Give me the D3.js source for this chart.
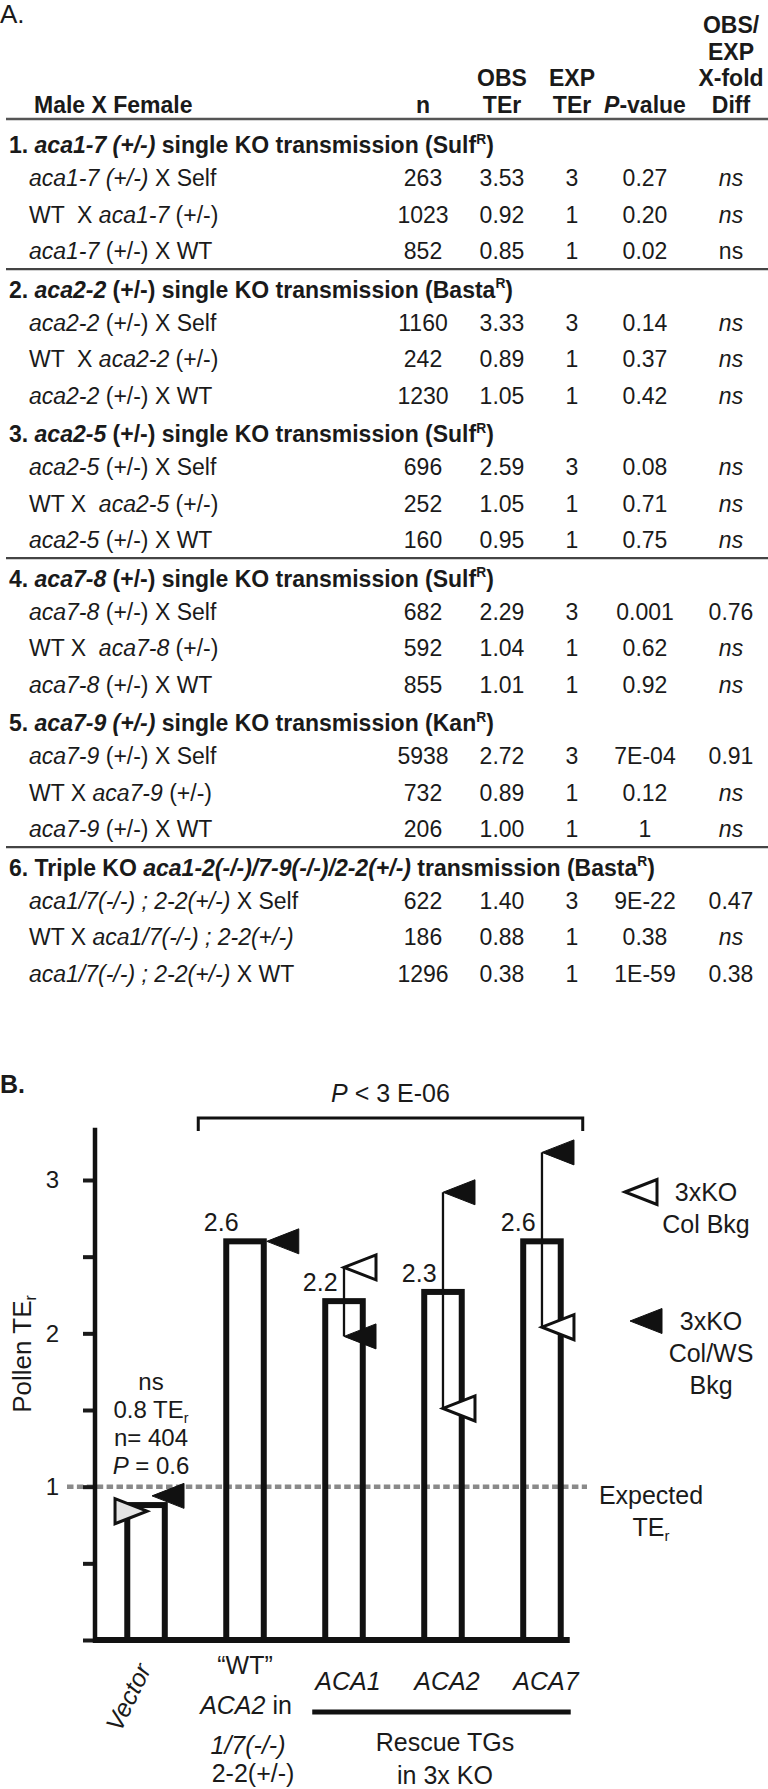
<!DOCTYPE html>
<html><head><meta charset="utf-8">
<script src="https://cdn.jsdelivr.net/npm/d3@7"></script>
<style>
html,body{margin:0;padding:0;background:#fff;}
svg{display:block;font-family:"Liberation Sans",Arial,Helvetica,sans-serif;}
text{white-space:pre;}
</style></head><body>
<svg id="fig" width="768" height="1789"></svg>
<script>
// ================= DATA : panel A (table) =================
const panelALabel = "A.";
const columnHeaders = [["n"], ["OBS", "TEr"], ["EXP", "TEr"], ["<i>P</i>-value"], ["OBS/", "EXP", "X-fold", "Diff"]];
const rowHeader = "Male X Female";
const sectionTitles = [
  "1. <i>aca1-7 (+/-)</i> single KO transmission (Sulf<sup>R</sup>)",
  "2. <i>aca2-2</i> (+/-) single KO transmission (Basta<sup>R</sup>)",
  "3. <i>aca2-5</i> (+/-) single KO transmission (Sulf<sup>R</sup>)",
  "4. <i>aca7-8</i> (+/-) single KO transmission (Sulf<sup>R</sup>)",
  "5. <i>aca7-9 (+/-)</i> single KO transmission (Kan<sup>R</sup>)",
  "6. Triple KO <i>aca1-2(-/-)/7-9(-/-)/2-2(+/-)</i> transmission (Basta<sup>R</sup>)"
];
const crossLabels = [
  "<i>aca1-7 (+/-)</i> X Self", "WT  X <i>aca1-7</i> (+/-)", "<i>aca1-7</i> (+/-) X WT",
  "<i>aca2-2</i> (+/-) X Self", "WT  X <i>aca2-2</i> (+/-)", "<i>aca2-2</i> (+/-) X WT",
  "<i>aca2-5</i> (+/-) X Self", "WT X  <i>aca2-5</i> (+/-)", "<i>aca2-5</i> (+/-) X WT",
  "<i>aca7-8</i> (+/-) X Self", "WT X  <i>aca7-8</i> (+/-)", "<i>aca7-8</i> (+/-) X WT",
  "<i>aca7-9</i> (+/-) X Self", "WT X <i>aca7-9</i> (+/-)", "<i>aca7-9</i> (+/-) X WT",
  "<i>aca1/7(-/-) ; 2-2(+/-)</i> X Self", "WT X <i>aca1/7(-/-) ; 2-2(+/-)</i>", "<i>aca1/7(-/-) ; 2-2(+/-)</i> X WT"
];
const nValues = [263, 1023, 852, 1160, 242, 1230, 696, 252, 160, 682, 592, 855, 5938, 732, 206, 622, 186, 1296];
const obsTEr = [3.53, 0.92, 0.85, 3.33, 0.89, 1.05, 2.59, 1.05, 0.95, 2.29, 1.04, 1.01, 2.72, 0.89, 1.00, 1.40, 0.88, 0.38];
const expTEr = [3, 1, 1, 3, 1, 1, 3, 1, 1, 3, 1, 1, 3, 1, 1, 3, 1, 1];
const pValues = ["0.27", "0.20", "0.02", "0.14", "0.37", "0.42", "0.08", "0.71", "0.75", "0.001", "0.62", "0.92", "7E-04", "0.12", "1", "9E-22", "0.38", "1E-59"];
const foldDiff = ["<i>ns</i>", "<i>ns</i>", "ns", "<i>ns</i>", "<i>ns</i>", "<i>ns</i>", "<i>ns</i>", "<i>ns</i>", "<i>ns</i>",
  "0.76", "<i>ns</i>", "<i>ns</i>", "0.91", "<i>ns</i>", "<i>ns</i>", "0.47", "<i>ns</i>", "0.38"];
const sectionsWithRule = [0, 2, 4];

// ================= DATA : panel B (bar chart) =================
const panelBLabel = "B.";
const groups = ["Vector", "WT", "ACA1", "ACA2", "ACA7"];
const meanTEr = [0.88, 2.6, 2.21, 2.27, 2.6];
const meanLabels = ["", "2.6", "2.2", "2.3", "2.6"];
const lineGroup = ["Vector", "Vector", "WT", "ACA1", "ACA1", "ACA2", "ACA2", "ACA7", "ACA7"];
const lineBackground = ["Col", "Col/WS", "Col/WS", "Col", "Col/WS", "Col/WS", "Col", "Col/WS", "Col"];
const lineTEr = [0.84, 0.94, 2.6, 2.43, 1.98, 2.92, 1.51, 3.18, 2.04];
const yTicks = [0, 0.5, 1, 1.5, 2, 2.5, 3];
const yTickLabels = ["", "", "1", "", "2", "", "3"];
const expectedTEr = 1;
const yTitle = "Pollen TE<sub>r</sub>";
const vectorNotes = ["ns", "0.8 TE<sub>r</sub>", "n= 404", "<i>P</i> = 0.6"];
const groupAxisLabels = [["<i>Vector</i>"], ["\u201CWT\u201D", "<i>ACA2</i> in", "<i>1/7(-/-)</i>", "2-2(+/-)"], ["<i>ACA1</i>"], ["<i>ACA2</i>"], ["<i>ACA7</i>"]];
const rescueLabel = ["Rescue TGs", "in 3x KO"];
const bracketLabel = "<i>P</i> < 3 E-06";
const legendItems = [
  {bg: "Col", lines: ["3xKO", "Col Bkg"]},
  {bg: "Col/WS", lines: ["3xKO", "Col/WS", "Bkg"]}
];
const expectedLabel = ["Expected", "TE<sub>r</sub>"];

// ================= helpers =================
const svg = d3.select("#fig");
function rich(sel, str, fs) {
  const parts = str.split(/(<\/?(?:i|sup|sub)>)/);
  let it = false, sup = false, sub = false, cur = 0;
  parts.forEach(p => {
    if (!p) return;
    if (p === "<i>") { it = true; return; }
    if (p === "</i>") { it = false; return; }
    if (p === "<sup>") { sup = true; return; }
    if (p === "</sup>") { sup = false; return; }
    if (p === "<sub>") { sub = true; return; }
    if (p === "</sub>") { sub = false; return; }
    const target = sup ? -0.42 * fs : sub ? 0.2 * fs : 0;
    const t = sel.append("tspan").text(p);
    if (it) t.attr("font-style", "italic");
    if (sup || sub) t.attr("font-size", (0.6 * fs) + "px");
    if (target !== cur) { t.attr("dy", target - cur); cur = target; }
  });
  return sel;
}
function txt(parent, str, x, y, fs, opts = {}) {
  const t = parent.append("text").attr("x", x).attr("y", y)
    .attr("font-size", fs + "px").attr("fill", "#1a1a1a")
    .attr("text-anchor", opts.anchor || "start");
  if (opts.bold) t.attr("font-weight", "bold");
  if (opts.transform) t.attr("transform", opts.transform);
  return rich(t, str, fs);
}

// ================= panel A =================
const FS = 23;
const A = svg.append("g");
txt(A, panelALabel, 0, 23, 26);
const col = [423, 502, 572, 645, 731];
const headBase = 113, headStep = 26.7;
txt(A, rowHeader, 34, headBase, FS, {bold: true});
columnHeaders.forEach((lines, c) => {
  lines.forEach((l, k) => {
    txt(A, l, col[c], headBase - headStep * (lines.length - 1 - k), FS, {bold: true, anchor: "middle"});
  });
});
A.append("line").attr("x1", 6).attr("x2", 768).attr("y1", 119).attr("y2", 119)
  .attr("stroke", "#555").attr("stroke-width", 2.6);

const headingCenter = s => 145 + 144.5 * s;
const rowCenter = i => headingCenter(Math.floor(i / 3)) + 33 + 36.6 * (i % 3);
const bOff = 8.2;
const f2 = d3.format(".2f");
sectionTitles.forEach((t, s) => {
  txt(A, t, 9, headingCenter(s) + bOff, FS, {bold: true});
});
crossLabels.forEach((lab, i) => {
  const yb = rowCenter(i) + bOff;
  txt(A, lab, 29, yb, FS);
  txt(A, String(nValues[i]), col[0], yb, FS, {anchor: "middle"});
  txt(A, f2(obsTEr[i]), col[1], yb, FS, {anchor: "middle"});
  txt(A, String(expTEr[i]), col[2], yb, FS, {anchor: "middle"});
  txt(A, pValues[i], col[3], yb, FS, {anchor: "middle"});
  txt(A, foldDiff[i], col[4], yb, FS, {anchor: "middle"});
});
sectionsWithRule.forEach(s => {
  const yy = rowCenter(s * 3 + 2) + 18;
  A.append("line").attr("x1", 6).attr("x2", 768).attr("y1", yy).attr("y2", yy)
    .attr("stroke", "#444").attr("stroke-width", 2.2);
});

// ================= panel B =================
const B = svg.append("g");
const CF = 25;
txt(B, panelBLabel, 0, 1093, 25, {bold: true});

const y = d3.scaleLinear().domain([0, 3]).range([1640, 1180]);
const yAxisTop = 3.34;
const x = d3.scaleBand().domain(groups).range([95, 593]).paddingInner(0.621).paddingOuter(0.326);
const bw = x.bandwidth();
const cx = g => x(g) + bw / 2;

// expected line (drawn first, bars have transparent fill)
B.append("line").attr("x1", 67).attr("x2", 587)
  .attr("y1", y(expectedTEr)).attr("y2", y(expectedTEr))
  .attr("stroke", "#8a8a8a").attr("stroke-width", 4.5).attr("stroke-dasharray", "6.5,3.4");

// y axis
const yAxis = d3.axisLeft(y).tickValues(yTicks).tickSize(12).tickPadding(24)
  .tickFormat((d, i) => yTickLabels[i]);
const ga = B.append("g").attr("transform", "translate(95,0)").call(yAxis);
ga.select(".domain").remove();
ga.attr("font-family", null).attr("font-size", null);
ga.selectAll(".tick line").attr("stroke", "#1a1a1a").attr("stroke-width", 4);
ga.selectAll(".tick text").attr("font-size", "24px").attr("fill", "#1a1a1a");
B.append("line").attr("x1", 95).attr("x2", 95).attr("y1", y(0) + 3).attr("y2", y(yAxisTop))
  .attr("stroke", "#111").attr("stroke-width", 4.5);

// bars
B.selectAll("rect.bar").data(groups).join("rect").attr("class", "bar")
  .attr("x", d => x(d)).attr("width", bw)
  .attr("y", (d, i) => y(meanTEr[i])).attr("height", (d, i) => y(0) - y(meanTEr[i]))
  .attr("fill", "none").attr("stroke", "#111").attr("stroke-width", 6);

// baseline
B.append("line").attr("x1", 93).attr("x2", x("ACA7") + bw + 9)
  .attr("y1", y(0)).attr("y2", y(0)).attr("stroke", "#111").attr("stroke-width", 6);

// mean labels
meanLabels.forEach((l, i) => {
  if (!l) return;
  txt(B, l, x(groups[i]) - 5, y(meanTEr[i]) - 10, CF, {anchor: "middle"});
});

// poles for line values
const TW = 32, TH = 25;
const leftTri = (tx, ty) => `M${tx},${ty}L${tx + TW},${ty - TH / 2}L${tx + TW},${ty + TH / 2}Z`;
const rightTri = (tx, ty) => `M${tx},${ty}L${tx - TW},${ty - TH / 2}L${tx - TW},${ty + TH / 2}Z`;
groups.forEach(g => {
  if (g === "Vector") return;
  const vals = lineTEr.filter((v, i) => lineGroup[i] === g);
  if (vals.length < 2) return;
  B.append("line").attr("x1", cx(g)).attr("x2", cx(g))
    .attr("y1", y(d3.max(vals))).attr("y2", y(d3.min(vals)))
    .attr("stroke", "#111").attr("stroke-width", 2.3);
});
// markers
lineTEr.forEach((v, i) => {
  const g = lineGroup[i], filled = lineBackground[i] === "Col/WS";
  let d;
  if (g === "Vector") d = filled ? leftTri(cx(g) + 6, y(v)) : rightTri(cx(g) + 1, y(v));
  else if (g === "WT") d = leftTri(x(g) + bw + 3, y(v));
  else d = leftTri(cx(g), y(v));
  B.append("path").attr("d", d)
    .attr("fill", filled ? "#111" : (g === "Vector" ? "#e4e4e4" : "#fff"))
    .attr("stroke", "#111").attr("stroke-width", filled ? 1 : 3).attr("stroke-linejoin", "miter");
});

// vector notes
vectorNotes.forEach((n, k) => txt(B, n, cx("Vector") + 5, 1390 + 28 * k, 24, {anchor: "middle"}));

// bracket
const bx0 = x("WT") - 28, bx1 = x("ACA7") + bw + 22;
B.append("path").attr("d", `M${bx0},1131V1118H${bx1}V1131`)
  .attr("fill", "none").attr("stroke", "#111").attr("stroke-width", 3);
txt(B, bracketLabel, (bx0 + bx1) / 2, 1102, 25, {anchor: "middle"});

// y title
txt(B, yTitle, 0, 0, 26, {anchor: "middle", transform: "translate(31,1354) rotate(-90)"});

// legend
const legY = [1192, 1321], legTri = [625, 630], legTx = [706, 711];
legendItems.forEach((it, k) => {
  const filled = it.bg === "Col/WS";
  B.append("path").attr("d", leftTri(legTri[k], legY[k]))
    .attr("fill", filled ? "#111" : "#fff").attr("stroke", "#111").attr("stroke-width", filled ? 1 : 3);
  it.lines.forEach((l, j) => txt(B, l, legTx[k], legY[k] + 9 + 32 * j, 25, {anchor: "middle"}));
});
expectedLabel.forEach((l, j) => txt(B, l, 651, 1504 + 32 * j, 25, {anchor: "middle"}));

// category labels
txt(B, groupAxisLabels[0][0], 0, 0, 25, {anchor: "middle", transform: `translate(${cx("Vector") - 10},1701) rotate(-64)`});
groupAxisLabels[1].forEach((l, j) => {
  const yb = [1674, 1714, 1754, 1782][j];
  txt(B, l, cx("WT") + [0, 1, 3, 8][j], yb, 25, {anchor: "middle"});
});
["ACA1", "ACA2", "ACA7"].forEach((g, k) => {
  txt(B, groupAxisLabels[k + 2][0], cx(g) + 4, 1690, 25, {anchor: "middle"});
});
B.append("line").attr("x1", x("ACA1") - 13).attr("x2", x("ACA7") + bw + 10)
  .attr("y1", 1712).attr("y2", 1712).attr("stroke", "#111").attr("stroke-width", 5);
rescueLabel.forEach((l, j) => txt(B, l, (x("ACA1") + x("ACA7") + bw) / 2 + 2, 1751 + 33 * j, 25, {anchor: "middle"}));
</script>
</body></html>
